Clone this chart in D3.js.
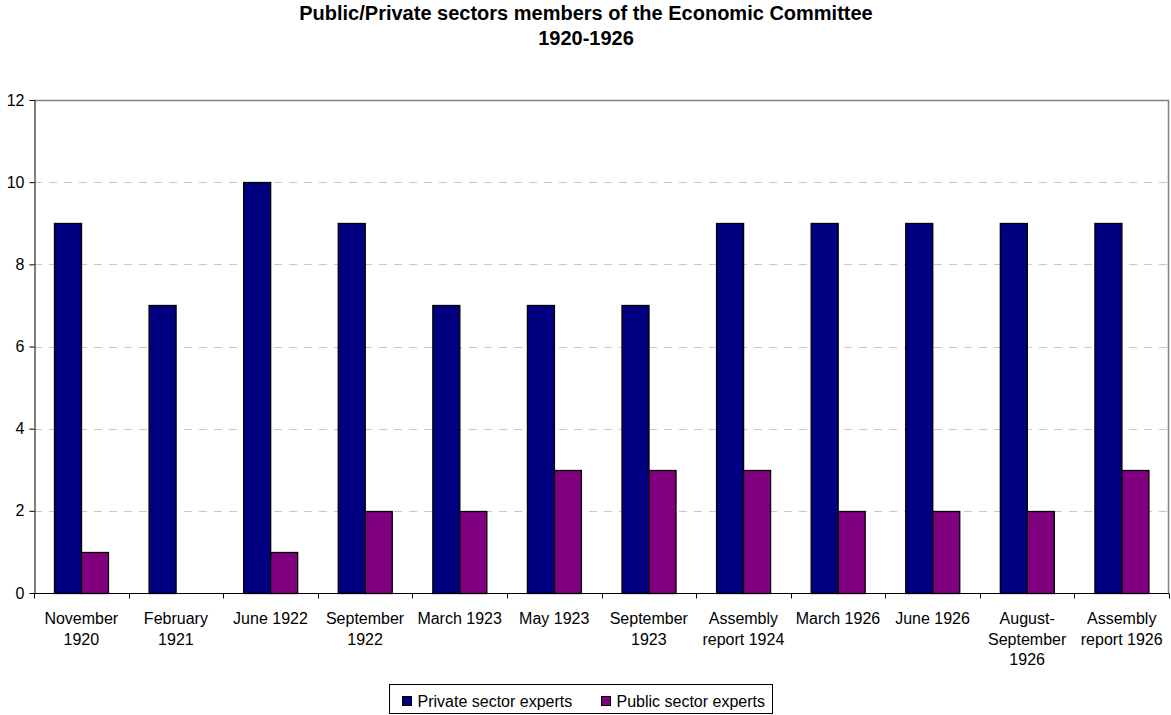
<!DOCTYPE html>
<html>
<head>
<meta charset="utf-8">
<script src="https://cdn.jsdelivr.net/npm/d3@7"></script>
<style>
  body { margin: 0; background: #fff; }
  text { font-family: "Liberation Sans", Arial, sans-serif; fill: #000; }
</style>
</head>
<body>
<div id="chart"></div>
<script>
// categories, each label split into its lines
const categories = [
  ['November', '1920'],
  ['February', '1921'],
  ['June 1922'],
  ['September', '1922'],
  ['March 1923'],
  ['May 1923'],
  ['September', '1923'],
  ['Assembly', 'report 1924'],
  ['March 1926'],
  ['June 1926'],
  ['August-', 'September', '1926'],
  ['Assembly', 'report 1926']
]
const seriesNames = ['Private sector experts', 'Public sector experts']
const privateExperts = [9, 7, 10, 9, 7, 7, 7, 9, 9, 9, 9, 9]
const publicExperts = [1, 0, 1, 2, 2, 3, 3, 3, 2, 2, 2, 3]
const yTicks = [0, 2, 4, 6, 8, 10, 12]
const colors = ['#000080', '#800080']

const width = 1171
	, height = 715
	, margin = { top: 100, right: 2, bottom: 122, left: 34 }

const keys = categories.map(d => d.join(' '))
	, values = [privateExperts, publicExperts]

const svg = d3.select('#chart').append('svg')
	.attr('width', width)
	.attr('height', height)

// title
const title = svg.append('text')
	.attr('text-anchor', 'middle')
	.style('font-size', '20px')
	.style('font-weight', 'bold')
title.append('tspan').attr('x', 586).attr('y', 20).text('Public/Private sectors members of the Economic Committee')
title.append('tspan').attr('x', 586).attr('y', 45).text('1920-1926')

const x0 = d3.scaleBand()
	.domain(keys)
	.range([margin.left, width - margin.right])

const x1 = d3.scaleBand()
	.domain(seriesNames)
	.range([0, x0.bandwidth()])
	.paddingOuter(0.72)

const y = d3.scaleLinear()
	.domain([0, 12])
	.range([height - margin.bottom, margin.top])

// gridlines
svg.append('g')
	.selectAll('line')
	.data(yTicks.filter(d => d > 0 && d < 12))
	.join('line')
	  .attr('x1', margin.left)
	  .attr('x2', width - margin.right)
	  .attr('y1', d => Math.round(y(d)) + .5)
	  .attr('y2', d => Math.round(y(d)) + .5)
	  .attr('stroke', '#c8c8c8')
	  .attr('stroke-dasharray', '8,7')

// top and right border of plot area
svg.append('path')
	.attr('d', 'M' + (margin.left) + ',' + (margin.top + .5) + 'H' + (width - margin.right - .5) + 'V' + y(0))
	.attr('fill', 'none')
	.attr('stroke', '#808080')
	.attr('stroke-width', 1.5)

// bars
const groups = svg.append('g')
	.selectAll('g')
	.data(keys)
	.join('g')
	  .attr('transform', d => 'translate(' + x0(d) + ',0)')

groups.selectAll('rect')
	.data((d, i) => seriesNames.map((s, j) => ({ s: s, v: values[j][i], c: colors[j] })))
	.join('rect')
	  .filter(d => d.v > 0)
	  .attr('x', d => Math.round(x1(d.s)) + .5)
	  .attr('y', d => Math.round(y(d.v)) + .5)
	  .attr('width', Math.round(x1.bandwidth()))
	  .attr('height', d => Math.round(y(0)) - Math.round(y(d.v)))
	  .attr('fill', d => d.c)
	  .attr('stroke', '#000')
	  .attr('stroke-width', 1.3)

// y axis
const yAxis = svg.append('g')
	.attr('transform', 'translate(' + (margin.left + .5) + ',0)')
	.call(d3.axisLeft(y).tickValues(yTicks).tickSize(5).tickSizeOuter(0))
yAxis.select('.domain').attr('stroke', '#000')
yAxis.selectAll('text')
	.style('font-size', '16px')
	.style('font-family', '"Liberation Sans", Arial, sans-serif')
	.attr('x', -10)

// x axis, ticks on category boundaries
const xAxis = svg.append('g')
	.attr('transform', 'translate(0,' + (Math.round(y(0)) + .5) + ')')
xAxis.append('line')
	.attr('x1', margin.left)
	.attr('x2', width - margin.right)
	.attr('stroke', '#000')
xAxis.selectAll('.tick')
	.data(keys.map(k => x0(k)).concat([width - margin.right]))
	.join('line')
	  .attr('class', 'tick')
	  .attr('x1', d => Math.round(d) + .5)
	  .attr('x2', d => Math.round(d) + .5)
	  .attr('y1', 0)
	  .attr('y2', 5)
	  .attr('stroke', '#000')

const labels = xAxis.selectAll('text')
	.data(categories)
	.join('text')
	  .attr('text-anchor', 'middle')
	  .style('font-size', '16px')
	  .attr('transform', (d, i) => 'translate(' + (x0(keys[i]) + x0.bandwidth() / 2) + ',0)')
labels.selectAll('tspan')
	.data(d => d)
	.join('tspan')
	  .attr('x', 0)
	  .attr('y', (d, i) => 30.5 + i * 20.5)
	  .text(d => d)

// legend
const legend = svg.append('g')
	.attr('transform', 'translate(389.5,684.5)')
legend.append('rect')
	.attr('width', 383)
	.attr('height', 29)
	.attr('fill', '#fff')
	.attr('stroke', '#000')

const legendX = [13, 212]
const item = legend.selectAll('g')
	.data(seriesNames)
	.join('g')
	  .attr('transform', (d, i) => 'translate(' + legendX[i] + ',0)')
item.append('rect')
	.attr('y', 12)
	.attr('width', 9)
	.attr('height', 9)
	.attr('fill', (d, i) => colors[i])
	.attr('stroke', '#000')
item.append('text')
	.attr('x', 15)
	.attr('y', 22)
	.style('font-size', '16px')
	.text(d => d)
</script>
</body>
</html>
